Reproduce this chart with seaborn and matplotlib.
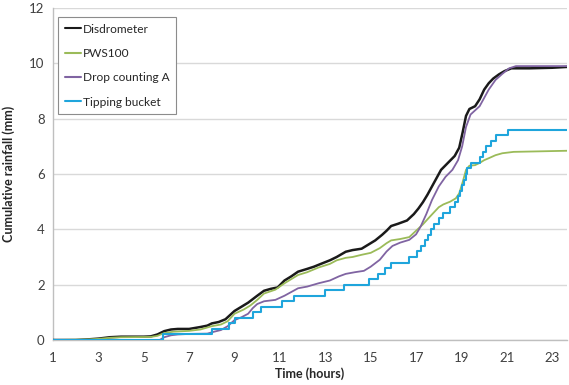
import matplotlib
matplotlib.use("Agg")
import matplotlib.pyplot as plt
from matplotlib.ticker import MultipleLocator, FixedLocator
import seaborn as sns
import pandas as pd

# Disdrometer cumulative rainfall (hours, mm)
disdro_t = [1.0, 2.0, 2.5, 3.0, 3.5, 4.0, 5.0, 5.3, 5.6, 5.9, 6.2, 6.5, 7.0, 7.5, 7.8,
            8.0, 8.3, 8.6, 9.0, 9.3, 9.6, 10.0, 10.3, 10.6, 10.9, 11.2, 11.5, 11.8,
            12.2, 12.5, 12.8, 13.2, 13.5, 13.9, 14.2, 14.6, 14.9, 15.2, 15.5, 15.7,
            15.9, 16.2, 16.6, 16.9, 17.1, 17.3, 17.5, 17.7, 17.9, 18.1, 18.4, 18.7,
            18.9, 19.05, 19.2, 19.35, 19.6, 19.8, 20.0, 20.2, 20.4, 20.65, 20.9,
            21.2, 22.0, 23.0, 23.65]
disdro_mm = [0.0, 0.0, 0.02, 0.05, 0.1, 0.12, 0.12, 0.13, 0.2, 0.32, 0.38, 0.4, 0.4,
             0.47, 0.52, 0.6, 0.65, 0.75, 1.05, 1.2, 1.35, 1.6, 1.78, 1.85, 1.9, 2.15,
             2.3, 2.47, 2.57, 2.65, 2.75, 2.88, 3.0, 3.19, 3.25, 3.3, 3.45, 3.6, 3.8,
             3.95, 4.12, 4.2, 4.32, 4.55, 4.75, 4.98, 5.25, 5.55, 5.85, 6.15, 6.4,
             6.65, 6.95, 7.5, 8.1, 8.35, 8.45, 8.7, 9.05, 9.28, 9.45, 9.6, 9.72, 9.82,
             9.82, 9.84, 9.87]

# PWS100 cumulative rainfall
pws_t = [1.0, 2.5, 3.0, 3.5, 4.0, 5.3, 5.6, 5.9, 6.3, 7.0, 7.5, 8.0, 8.4, 8.7, 9.0,
         9.4, 9.7, 10.0, 10.3, 10.8, 11.2, 11.8, 12.2, 12.7, 13.2, 13.5, 13.9, 14.2,
         14.6, 15.0, 15.4, 15.7, 15.9, 16.3, 16.7, 17.0, 17.3, 17.6, 18.0, 18.2,
         18.5, 18.75, 18.9, 19.05, 19.2, 19.35, 19.6, 19.8, 20.0, 20.2, 20.5, 20.8,
         21.3, 22.5, 23.65]
pws_mm = [0.0, 0.02, 0.04, 0.08, 0.1, 0.11, 0.15, 0.25, 0.3, 0.33, 0.38, 0.5, 0.56,
          0.68, 0.95, 1.1, 1.25, 1.45, 1.68, 1.82, 2.05, 2.35, 2.45, 2.62, 2.75, 2.88,
          2.97, 3.0, 3.08, 3.15, 3.32, 3.5, 3.6, 3.65, 3.72, 3.95, 4.18, 4.45, 4.8,
          4.9, 5.0, 5.12, 5.3, 5.7, 6.15, 6.3, 6.32, 6.4, 6.5, 6.57, 6.68, 6.75, 6.8,
          6.82, 6.84]

# Drop counting A cumulative rainfall
drop_t = [1.0, 5.7, 5.9, 6.2, 6.5, 7.0, 7.8, 8.1, 8.4, 8.7, 9.0, 9.3, 9.6, 9.8, 10.0,
          10.3, 10.8, 11.2, 11.8, 12.2, 12.7, 13.2, 13.6, 13.9, 14.3, 14.7, 15.0,
          15.4, 15.7, 15.96, 16.3, 16.7, 17.0, 17.2, 17.45, 17.7, 18.0, 18.3, 18.6,
          18.85, 19.03, 19.2, 19.4, 19.6, 19.8, 20.0, 20.2, 20.5, 20.8, 21.1, 21.4,
          23.65]
drop_mm = [0.0, 0.0, 0.1, 0.17, 0.2, 0.22, 0.23, 0.3, 0.36, 0.5, 0.72, 0.82, 0.95,
           1.15, 1.3, 1.4, 1.45, 1.6, 1.87, 1.93, 2.05, 2.15, 2.3, 2.39, 2.45, 2.5,
           2.65, 2.9, 3.2, 3.4, 3.52, 3.62, 3.82, 4.1, 4.55, 5.06, 5.55, 5.9, 6.15,
           6.5, 7.0, 7.7, 8.15, 8.3, 8.45, 8.75, 9.05, 9.4, 9.62, 9.82, 9.9, 9.9]

# Tipping bucket: time of each tip and running total (mm)
tip_t = [1.0, 5.85, 8.0, 8.75, 9.03, 9.8, 10.17, 11.1, 11.64, 13.0, 13.84, 14.93,
         15.3, 15.65, 15.88, 16.69, 17.05, 17.2, 17.38, 17.52, 17.66, 17.8, 18.02,
         18.2, 18.5, 18.72, 18.85, 18.95, 19.03, 19.1, 19.18, 19.26, 19.4, 19.8,
         19.95, 20.1, 20.3, 20.5, 21.05, 23.65]
tip_mm = [0.0, 0.2, 0.4, 0.6, 0.8, 1.0, 1.2, 1.4, 1.6, 1.8, 2.0, 2.2, 2.4, 2.6, 2.8,
          3.0, 3.2, 3.4, 3.6, 3.8, 4.0, 4.2, 4.4, 4.6, 4.8, 5.0, 5.2, 5.4, 5.6, 5.8,
          6.0, 6.2, 6.4, 6.6, 6.8, 7.0, 7.2, 7.4, 7.6, 7.6]

x_ticks = [1, 3, 5, 7, 9, 11, 13, 15, 17, 19, 21, 23]
y_ticks = [0, 2, 4, 6, 8, 10, 12]

sns.set_theme(style="white")
plt.rcParams["font.family"] = ["Lato", "DejaVu Sans"]

fig = plt.figure(figsize=(5.69, 3.85), dpi=100)
ax = fig.add_axes([53 / 569, 1 - 340 / 385, (567 - 53) / 569, (340 - 8) / 385])

series = [
    ("Disdrometer", disdro_t, disdro_mm, "#1a1a1a", 1.8, "default"),
    ("PWS100", pws_t, pws_mm, "#9bbb59", 1.3, "default"),
    ("Drop counting A", drop_t, drop_mm, "#8064a2", 1.3, "default"),
    ("Tipping bucket", tip_t, tip_mm, "#1fa5dc", 1.5, "steps-post"),
]
for name, t, v, col, lw, ds in series:
    df = pd.DataFrame({"t": t, "v": v})
    sns.lineplot(data=df, x="t", y="v", ax=ax, color=col, linewidth=lw,
                 drawstyle=ds, label=name, sort=False, zorder=3)

ax.set_xlim(1, 23.65)
ax.set_ylim(0, 12)
ax.xaxis.set_major_locator(FixedLocator(x_ticks))
ax.xaxis.set_minor_locator(MultipleLocator(0.5))
ax.yaxis.set_major_locator(FixedLocator(y_ticks))
ax.yaxis.set_minor_locator(MultipleLocator(0.4))
ax.set_xticklabels([str(t) for t in x_ticks])
ax.set_yticklabels([str(t) for t in y_ticks])

ax.grid(axis="y", which="major", color="#d9d9d9", linewidth=1.0, zorder=0)
ax.grid(axis="x", visible=False)
for s in ["top", "right"]:
    ax.spines[s].set_visible(False)
for s in ["left", "bottom"]:
    ax.spines[s].set_color("#bfbfbf")
    ax.spines[s].set_linewidth(1.0)

ax.tick_params(axis="both", which="both", direction="inout", color="#bfbfbf",
               labelsize=9.5, labelcolor="#404040")
ax.tick_params(axis="both", which="major", length=6, width=0.8, pad=3)
ax.tick_params(axis="both", which="minor", length=5, width=0.6)
ax.tick_params(axis="x", which="major", pad=6)

ax.set_xlabel("Time (hours)", fontsize=9, fontweight="bold", labelpad=2)
ax.set_ylabel("Cumulative rainfall (mm)", fontsize=9, fontweight="bold", labelpad=10)

leg = ax.legend(loc="upper left", bbox_to_anchor=(0.0097, 0.973), fontsize=8.6,
                frameon=True, fancybox=False, edgecolor="#8c8c8c", framealpha=1,
                handlelength=1.4, handletextpad=0.15, labelspacing=1.12,
                borderpad=0.55, borderaxespad=0)
leg.get_frame().set_linewidth(0.8)
for line in leg.get_lines():
    line.set_linewidth(1.5)

fig.savefig("out.png", dpi=100)
